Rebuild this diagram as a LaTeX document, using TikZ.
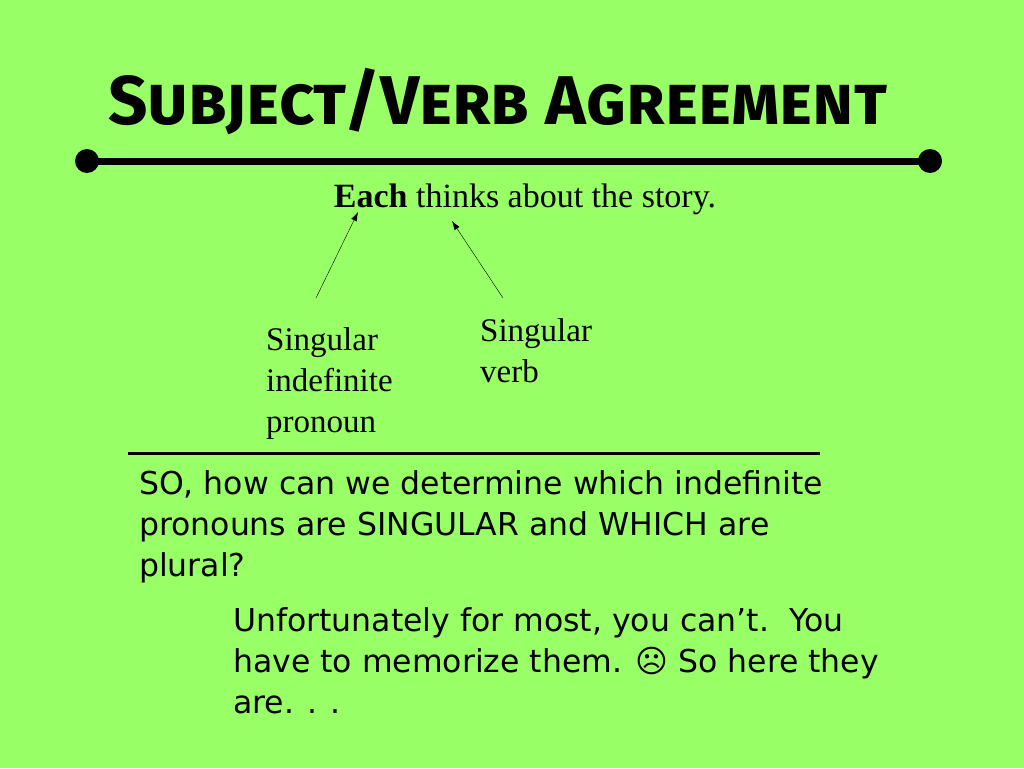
\documentclass[tikz,border=0pt]{standalone}
\usepackage{fontspec}
\usetikzlibrary{arrows.meta}
\setmainfont{Liberation Serif}
\newfontfamily\comic{DejaVu Sans}
\newfontfamily\titlef{Fira Sans}
\begin{document}
\begin{tikzpicture}[x=1pt,y=-1pt,
 lab/.style={anchor=north west,align=left,inner sep=0,font=\fontsize{33}{41}\selectfont},
 body/.style={anchor=north west,align=left,inner sep=0,font=\comic\fontsize{31.5}{41}\selectfont}]
\fill[fill={rgb,255:red,153;green,255;blue,102}] (0,0) rectangle (1024,768);
\useasboundingbox (0,0) rectangle (1024,768);
\node[anchor=west,inner sep=0,font=\titlef\bfseries\fontsize{69}{72}\selectfont] (title) at (108,102) {\textsc{Subject/Verb Agreement}};
\coordinate (l1) at (87,161); \coordinate (l2) at (930,161);
\draw[line width=7] (l1) -- (l2);
\fill (l1) circle (12); \fill (l2) circle (12);
\node[inner sep=0,font=\fontsize{34}{40}\selectfont] (sent) at (525,199) {\textbf{Each} thinks about the story.};
\coordinate (a1) at (316,298); \coordinate (a1e) at (358,212);
\coordinate (a2) at (503,298); \coordinate (a2e) at (452,221);
\draw[-{Latex[length=9,width=6]}] (a1) -- (a1e);
\draw[-{Latex[length=9,width=6]}] (a2) -- (a2e);
\node[lab] (pron) at (266,327) {Singular\\indefinite\\pronoun};
\node[lab] (verb) at (480,318) {Singular\\verb};
\coordinate (s1) at (128,453); \coordinate (s2) at (820,453);
\draw[line width=3] (s1) -- (s2);
\node[body] (q) at (139,470) {SO, how can we determine which indefinite\\pronouns are SINGULAR and WHICH are\\plural?};
\node[body] (a) at (233,607) {Unfortunately for most, you can’t.\ \ You\\have to memorize them. ☹ So here they\\are. . .};
\end{tikzpicture}
\end{document}
